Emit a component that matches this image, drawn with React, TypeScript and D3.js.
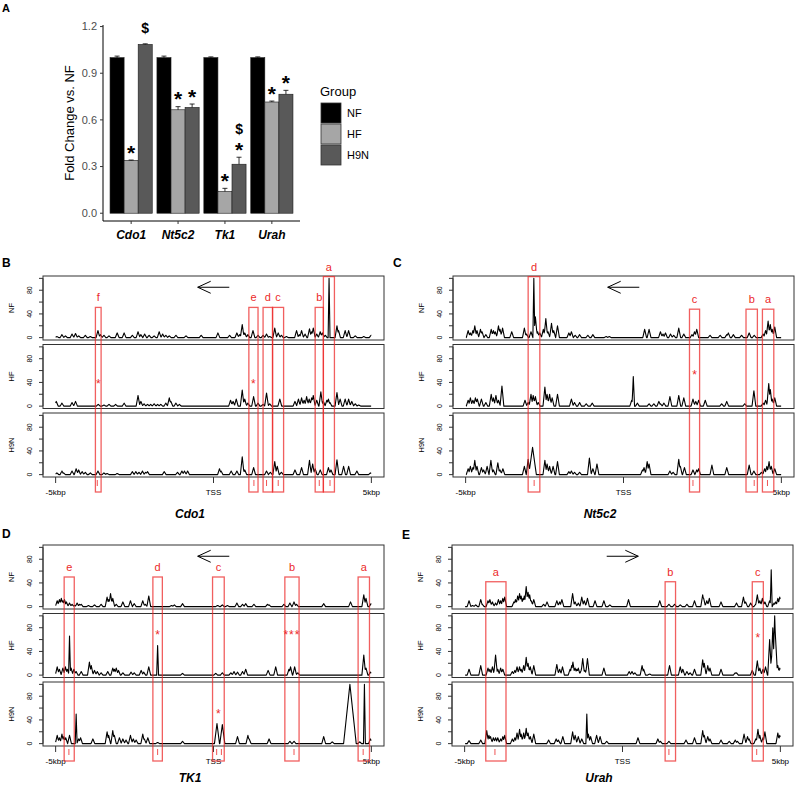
import React from 'react';
import * as d3 from 'd3';

// ---------- panel A: fold change (qPCR) ----------
const genes = ['Cdo1', 'Nt5c2', 'Tk1', 'Urah'];
const groups = ['NF', 'HF', 'H9N'];
const groupFill = ['#000000', '#a6a6a6', '#595959'];
const foldNF = [1.0, 1.0, 1.0, 1.0];
const errNF = [0.01, 0.01, 0.005, 0.005];
const foldHF = [0.34, 0.665, 0.14, 0.715];
const errHF = [0.002, 0.02, 0.02, 0.006];
const foldH9N = [1.085, 0.68, 0.315, 0.765];
const errH9N = [0.004, 0.022, 0.045, 0.025];
const foldTicks = [0, 0.3, 0.6, 0.9, 1.2];
const sigMarks = [
  ['Cdo1', 'HF', '*'], ['Cdo1', 'H9N', '$'],
  ['Nt5c2', 'HF', '*'], ['Nt5c2', 'H9N', '*'],
  ['Tk1', 'HF', '*'], ['Tk1', 'H9N', '*'], ['Tk1', 'H9N', '$'],
  ['Urah', 'HF', '*'], ['Urah', 'H9N', '*'],
];

// ---------- panels B-E: signal tracks, peaks as [kbp from TSS, signal, (half width)] ----------
const trackRows = ['NF', 'HF', 'H9N'];
const signalTicks = [0, 20, 40, 60, 80, 100];
const signalLabels = [0, 40, 80];
const posTicks = [-5, 0, 5];
const posLabels = ['-5kbp', 'TSS', '5kbp'];

const cdo1NF = [[-4.96,2],[-4.80,5],[-4.69,3],[-4.48,6],[-4.37,7],[-4.27,3],[-4.06,4],[-3.90,2],[-3.66,12],[-3.58,5],[-3.47,4],[-3.31,3],[-3.05,8],[-2.83,8],[-2.57,4],[-2.39,10],[-2.30,5],[-2.18,6],[-2.04,4],[-1.88,3],[-1.72,10],[-1.61,6],[-1.51,4],[-1.40,3],[-1.19,4],[-0.87,3],[-0.39,4],[0.14,8],[0.51,4],[0.74,8],[0.83,5],[0.91,22],[0.99,8],[1.09,5],[1.25,12],[1.41,4],[1.57,4],[1.68,6],[1.78,2],[1.94,16],[2.05,8],[2.15,4],[2.31,2],[2.63,12],[2.72,5],[2.79,12],[2.90,6],[3.04,15],[3.11,10],[3.16,16],[3.27,6],[3.38,10],[3.45,8],[3.54,4],[3.66,100,0.03],[3.91,20],[3.96,12],[4.17,12],[4.28,12],[4.49,3],[4.76,2],[4.99,4]];
const cdo1HF = [[-4.98,8],[-4.80,5],[-4.48,6],[-4.37,8],[-3.65,3],[-3.47,2],[-3.31,3],[-3.10,3],[-2.83,5],[-2.39,18],[-2.30,8],[-2.20,4],[-2.09,3],[-1.99,3],[-1.88,4],[-1.77,3],[-1.67,3],[-1.51,5],[-1.40,14],[-1.35,8],[-1.19,5],[-1.08,3],[0.54,10],[0.62,8],[0.72,12],[0.91,27],[0.99,12],[1.09,5],[1.27,16],[1.41,5],[1.57,3],[1.68,22],[1.78,4],[2.10,12],[2.58,8],[2.69,12],[2.79,14],[2.87,10],[2.95,16],[3.03,12],[3.11,14],[3.16,18],[3.27,10],[3.40,24],[3.48,8],[3.59,10],[3.64,12],[3.69,6],[3.91,23],[4.01,12],[4.17,12],[4.28,12],[4.38,8],[4.49,4],[4.60,2]];
const cdo1H9N = [[-4.96,3],[-4.80,6],[-4.75,3],[-4.48,6],[-4.35,10],[-4.27,8],[-4.16,5],[-4.06,4],[-3.90,3],[-3.66,6],[-3.47,3],[-3.37,2],[-3.05,2],[-2.57,5],[-2.46,5],[-2.36,4],[-2.25,6],[-2.15,4],[-2.09,5],[-1.56,5],[-1.14,4],[-1.00,6],[-0.92,6],[-0.82,6],[0.19,10],[0.24,6],[0.56,6],[0.74,6],[0.91,30],[0.99,8],[1.27,12],[1.68,6],[1.80,4],[1.94,22],[2.02,14],[2.15,4],[2.58,8],[2.79,12],[3.04,24],[3.14,18],[3.22,10],[3.38,8],[3.64,12],[3.72,8],[3.91,25],[4.12,14],[4.28,14],[4.54,6],[4.97,3]];

const nt5c2NF = [[-4.92,12],[-4.85,8],[-4.77,12],[-4.71,20],[-4.64,12],[-4.53,14],[-4.48,10],[-4.36,5],[-4.19,14],[-4.12,12],[-4.06,10],[-3.96,20],[-3.91,14],[-3.83,16],[-3.54,10],[-3.14,16],[-3.07,6],[-2.93,10],[-2.84,100,0.03],[-2.79,35],[-2.72,10],[-2.65,8],[-2.54,14],[-2.46,32],[-2.39,10],[-2.28,24],[-2.21,12],[-2.09,20],[-1.73,8],[-1.65,10],[-1.53,4],[-1.39,5],[-1.13,4],[-0.97,5],[-0.55,2],[-0.45,2],[0.67,14],[0.81,14],[1.17,10],[1.25,6],[1.33,8],[1.49,6],[1.59,4],[1.75,16],[1.91,6],[2.17,5],[2.25,10],[2.32,14],[2.74,4],[3.06,4],[3.27,5],[3.32,8],[3.48,5],[3.74,4],[3.98,8],[4.14,4],[4.42,6],[4.50,12],[4.58,28],[4.65,22],[4.71,14],[4.79,18]];
const nt5c2HF = [[-4.92,10],[-4.85,14],[-4.77,10],[-4.69,14],[-4.63,12],[-4.50,12],[-4.36,6],[-4.19,20],[-4.12,14],[-4.04,18],[-3.96,10],[-3.85,34],[-3.12,10],[-3.02,6],[-2.93,20],[-2.86,18],[-2.79,16],[-2.70,6],[-2.49,32],[-2.42,20],[-2.34,20],[-2.26,14],[-2.09,20],[-1.65,12],[-1.55,6],[-1.39,6],[-1.18,4],[-0.99,5],[0.26,10],[0.31,50,0.04],[0.44,5],[0.81,4],[0.96,4],[1.12,8],[1.17,4],[1.28,5],[1.47,16],[1.75,18],[1.91,14],[2.20,12],[2.29,8],[2.38,10],[2.59,10],[3.11,4],[3.27,8],[3.84,4],[4.13,26],[4.42,5],[4.50,10],[4.60,38],[4.65,28],[4.71,12],[4.79,14]];
const nt5c2H9N = [[-4.92,10],[-4.85,14],[-4.77,12],[-4.71,24],[-4.64,14],[-4.50,12],[-4.43,8],[-4.32,14],[-4.20,24],[-4.12,8],[-3.98,20],[-3.91,8],[-3.82,10],[-3.14,14],[-3.02,26],[-2.88,46,0.12],[-2.49,24],[-2.42,18],[-2.34,14],[-2.23,14],[-2.09,22],[-1.73,5],[-1.65,6],[-1.55,4],[-1.39,4],[-1.08,28],[-0.97,10],[-0.84,18],[0.60,8],[0.65,12],[0.75,22],[0.81,18],[1.47,6],[1.57,4],[1.75,26],[1.80,14],[1.93,12],[2.20,8],[2.32,8],[2.38,10],[2.80,16],[3.27,12],[3.98,16],[4.13,6],[4.37,4],[4.47,10],[4.54,14],[4.61,22],[4.68,14],[4.79,10]];

const tk1NF = [[-4.95,10],[-4.88,12],[-4.82,14],[-4.77,10],[-4.72,12],[-4.66,8],[-4.56,6],[-4.48,4],[-4.40,2],[-4.32,6],[-4.24,4],[-4.19,4],[-3.96,2],[-3.77,3],[-3.56,4],[-3.37,16],[-3.32,12],[-3.26,22],[-3.19,14],[-3.08,4],[-2.87,8],[-2.63,10],[-2.51,5],[-2.24,10],[-2.16,4],[-2.05,18],[-1.33,2],[-1.24,3],[-0.98,5],[0.13,2],[0.28,3],[0.44,2],[0.74,6],[0.92,4],[1.02,5],[1.28,4],[1.71,4],[1.76,3],[2.23,4],[2.42,6],[2.55,8],[2.63,4],[3.49,5],[4.34,8],[4.76,20],[4.83,14],[4.99,5]];
const tk1HF = [[-4.95,14],[-4.88,10],[-4.77,12],[-4.69,14],[-4.63,10],[-4.56,66,0.03],[-4.51,12],[-4.42,10],[-4.35,6],[-4.19,6],[-3.93,22],[-3.87,16],[-3.77,8],[-3.68,6],[-3.56,4],[-3.35,6],[-3.19,12],[-3.14,10],[-3.08,12],[-3.01,8],[-2.87,4],[-2.61,5],[-2.51,4],[-2.29,8],[-2.21,5],[-2.05,14],[-1.77,50,0.03],[-0.98,3],[0.07,3],[0.28,4],[0.55,4],[0.65,6],[0.76,5],[0.92,6],[1.02,10],[1.73,8],[1.97,14],[2.39,10],[2.44,14],[2.57,14],[2.67,4],[4.76,34],[4.83,12],[4.97,5]];
const tk1H9N = [[-4.95,14],[-4.88,10],[-4.80,16],[-4.74,12],[-4.68,10],[-4.56,14],[-4.35,50,0.03],[-4.27,8],[-4.21,10],[-3.82,8],[-3.37,20],[-3.32,14],[-3.19,22],[-3.14,14],[-2.98,10],[-2.87,8],[-2.77,6],[-2.63,14],[-2.54,8],[-2.45,6],[-2.24,16],[-2.19,8],[-2.08,10],[-1.77,2],[-0.98,4],[0.11,34,0.08],[0.28,32,0.08],[0.76,12],[1.09,14],[1.13,8],[1.76,8],[2.42,4],[2.55,4],[3.49,12],[3.76,3],[4.32,100,0.2],[4.63,3],[4.78,100,0.03],[4.97,8]];

const urahNF = [[-4.86,10],[-4.75,2],[-4.65,3],[-4.49,12],[-4.44,4],[-4.26,10],[-4.20,12],[-4.12,8],[-4.02,6],[-3.93,12],[-3.86,10],[-3.79,14],[-3.73,16],[-3.44,8],[-3.39,12],[-3.32,18],[-3.26,22],[-3.21,18],[-3.15,14],[-3.11,18],[-3.05,34],[-2.99,24],[-2.94,20],[-2.89,10],[-2.81,12],[-2.50,4],[-2.39,8],[-2.08,10],[-1.99,8],[-1.92,12],[-1.58,22],[-1.50,8],[-1.40,6],[-1.29,16],[-1.21,10],[-1.11,14],[-0.87,10],[-0.59,10],[-0.40,3],[0.19,12],[1.18,10],[1.47,4],[1.65,4],[1.83,3],[2.04,4],[2.28,10],[2.54,20],[2.57,14],[2.67,10],[2.75,14],[3.12,8],[3.61,6],[3.83,16],[3.90,8],[4.06,6],[4.22,4],[4.27,20],[4.35,10],[4.43,14],[4.51,8],[4.66,10],[4.71,62,0.03],[4.80,6],[4.85,8],[4.92,14],[4.98,16]];
const urahHF = [[-4.86,10],[-4.49,16],[-4.26,12],[-4.20,10],[-4.12,14],[-4.02,34],[-3.95,10],[-3.86,12],[-3.79,10],[-3.49,6],[-3.41,8],[-3.34,14],[-3.26,14],[-3.21,10],[-3.13,16],[-3.05,30],[-2.99,20],[-2.92,14],[-2.81,16],[-2.08,18],[-1.99,10],[-1.90,14],[-1.66,10],[-1.61,16],[-1.57,22],[-1.50,12],[-1.45,10],[-1.40,12],[-1.31,8],[-1.26,28],[-1.19,8],[-1.11,28],[-0.59,12],[0.21,6],[0.30,6],[0.39,4],[0.62,16],[0.67,10],[0.86,2],[1.49,16],[1.83,14],[1.91,10],[2.04,6],[2.14,4],[2.28,10],[2.54,26],[2.59,20],[2.70,16],[2.77,12],[3.12,10],[3.57,4],[3.61,4],[4.11,8],[4.27,24],[4.35,12],[4.45,10],[4.53,14],[4.66,60],[4.72,30],[4.76,80],[4.82,100,0.06],[4.85,60],[4.92,16],[4.98,12]];
const urahH9N = [[-4.86,5],[-4.49,6],[-4.30,22],[-4.23,14],[-4.18,12],[-4.09,10],[-4.02,10],[-3.95,10],[-3.86,8],[-3.79,12],[-3.73,14],[-3.49,8],[-3.41,10],[-3.34,18],[-3.26,24],[-3.21,16],[-3.13,18],[-3.05,26],[-2.99,18],[-2.92,12],[-2.81,16],[-2.34,6],[-2.10,8],[-2.03,6],[-1.89,12],[-1.58,20],[-1.50,14],[-1.40,12],[-1.29,8],[-1.13,50,0.03],[-1.08,16],[-1.01,12],[-0.82,14],[-0.71,12],[-0.50,4],[0.49,10],[1.12,8],[1.20,4],[1.47,4],[2.01,6],[2.28,10],[2.54,22],[2.59,14],[2.70,12],[2.77,8],[3.12,6],[3.38,4],[3.57,6],[3.64,4],[3.85,16],[3.96,12],[4.01,8],[4.22,8],[4.29,24],[4.35,14],[4.45,10],[4.51,20],[4.92,18],[4.98,14]];

// highlighted regions: kbp span, box top (signal units on NF row), tick marks, star text / row / signal
const cdo1Regions = [
  { label: 'f', from: -3.74, to: -3.56, reach: 51, marks: [-3.68], star: '*', starRow: 1, starAt: 40 },
  { label: 'e', from: 1.12, to: 1.41, reach: 51, marks: [1.28], star: '*', starRow: 1, starAt: 40 },
  { label: 'd', from: 1.57, to: 1.87, reach: 51, marks: [1.68] },
  { label: 'c', from: 1.87, to: 2.22, reach: 51, marks: [2.05] },
  { label: 'b', from: 3.22, to: 3.48, reach: 51, marks: [3.35] },
  { label: 'a', from: 3.48, to: 3.83, reach: 103, marks: [3.69] },
];
const nt5c2Regions = [
  { label: 'd', from: -3.02, to: -2.65, reach: 103, marks: [-2.83] },
  { label: 'c', from: 2.09, to: 2.41, reach: 48, marks: [2.2], star: '*', starRow: 1, starAt: 55 },
  { label: 'b', from: 3.88, to: 4.24, reach: 48, marks: [4.14] },
  { label: 'a', from: 4.4, to: 4.76, reach: 48, marks: [4.56] },
];
const tk1Regions = [
  { label: 'e', from: -4.73, to: -4.41, reach: 50, marks: [-4.58] },
  { label: 'd', from: -1.92, to: -1.62, reach: 50, marks: [-1.77], star: '*', starRow: 1, starAt: 70 },
  { label: 'c', from: -0.03, to: 0.34, reach: 50, marks: [0.1, 0.25], star: '*', starRow: 2, starAt: 52 },
  { label: 'b', from: 2.26, to: 2.71, reach: 50, marks: [2.55], star: '***', starRow: 1, starAt: 70 },
  { label: 'a', from: 4.58, to: 4.94, reach: 50, marks: [4.74] },
];
const urahRegions = [
  { label: 'a', from: -4.33, to: -3.69, reach: 42, marks: [-4.04] },
  { label: 'b', from: 1.35, to: 1.68, reach: 42, marks: [1.47] },
  { label: 'c', from: 4.11, to: 4.46, reach: 42, marks: [4.25], star: '*', starRow: 1, starAt: 65 },
];

const FONT = 'Liberation Sans, Arial, Helvetica, sans-serif';
const RED = '#ec2a2a';
const PANEL_W = 341;
const TRACK_H = 64;
const TRACK_GAP = 4.5;
const PEAK_HALF = 0.06;

const trackPanels = [
  { letter: 'B', lx: 2, ly: 267, gene: 'Cdo1', left: 43, top: 276, titleY: 518, strand: -1, tracks: [cdo1NF, cdo1HF, cdo1H9N], regions: cdo1Regions },
  { letter: 'C', lx: 393, ly: 267, gene: 'Nt5c2', left: 453, top: 276, titleY: 518, strand: -1, tracks: [nt5c2NF, nt5c2HF, nt5c2H9N], regions: nt5c2Regions },
  { letter: 'D', lx: 2, ly: 538, gene: 'TK1', left: 43, top: 545, titleY: 782, strand: -1, tracks: [tk1NF, tk1HF, tk1H9N], regions: tk1Regions },
  { letter: 'E', lx: 402, ly: 539, gene: 'Urah', left: 452, top: 545, titleY: 782, strand: 1, tracks: [urahNF, urahHF, urahH9N], regions: urahRegions },
];

// path of a coverage track: baseline from -5 to 5 kbp with triangular peaks
function trackPath(peaks: number[][], x: d3.ScaleLinear<number, number>, y: d3.ScaleLinear<number, number>) {
  const ks: number[] = [];
  for (let px = x(-5); px <= x(5) + 0.001; px += 0.5) ks.push(x.invert(px));
  peaks.forEach(p => {
    const s = p[2] ?? PEAK_HALF;
    ks.push(p[0], p[0] - s, p[0] + s);
  });
  const sorted = ks.filter(k => k >= -5 && k <= 5).sort((a, b) => a - b);
  const pts: [number, number][] = sorted.map(k => {
    let v = 0;
    for (const p of peaks) {
      const s = p[2] ?? PEAK_HALF;
      const d = Math.abs(k - p[0]);
      if (d < s) v = Math.max(v, p[1] * (1 - d / s));
    }
    return [x(k), y(v)];
  });
  return d3.line()(pts) || '';
}

const BarPanel = () => {
  const x = d3.scaleBand().domain(genes).range([103, 300]).paddingInner(0.1).paddingOuter(0.15);
  const xg = d3.scaleBand().domain(groups).range([0, x.bandwidth()]);
  const y = d3.scaleLinear().domain([-0.05, 1.21]).range([221, 25]);
  const series: Record<string, number[][]> = { NF: [foldNF, errNF], HF: [foldHF, errHF], H9N: [foldH9N, errH9N] };
  const stack: Record<string, number> = {};

  return (
    <g fontFamily={FONT}>
      <text x={2} y={12} fontSize={11} fontWeight="bold">A</text>
      {genes.map((g, i) => groups.map((grp, j) => {
        const [vals, errs] = series[grp];
        const bx = (x(g) as number) + (xg(grp) as number);
        const cx = bx + xg.bandwidth() / 2;
        return (
          <g key={g + grp}>
            <rect x={bx} y={y(vals[i])} width={xg.bandwidth()} height={y(0) - y(vals[i])}
              fill={groupFill[j]} stroke="#1a1a1a" strokeWidth={0.6} />
            <line x1={cx} x2={cx} y1={y(vals[i])} y2={y(vals[i] + errs[i])} stroke="#000" strokeWidth={0.8} />
            <line x1={cx - 2.5} x2={cx + 2.5} y1={y(vals[i] + errs[i])} y2={y(vals[i] + errs[i])} stroke="#000" strokeWidth={0.8} />
          </g>
        );
      }))}
      {sigMarks.map(([g, grp, sym], k) => {
        const key = g + grp;
        const n = stack[key] || 0;
        stack[key] = n + 1;
        const i = genes.indexOf(g);
        const [vals, errs] = series[grp];
        const top = y(vals[i] + errs[i]);
        const cx = (x(g) as number) + (xg(grp) as number) + xg.bandwidth() / 2;
        const ty = sym === '*' ? top - 0.5 - n * 20 : top - 11 - n * 12.5;
        return (
          <text key={k} x={cx} y={ty} textAnchor="middle" fontWeight="bold"
            fontSize={sym === '*' ? 21 : 14}>{sym}</text>
        );
      })}
      {/* y axis */}
      <line x1={103} x2={103} y1={25} y2={221} stroke="#000" strokeWidth={1} />
      {foldTicks.map(t => (
        <g key={t}>
          <line x1={100} x2={103} y1={y(t)} y2={y(t)} stroke="#333" />
          <text x={97} y={y(t)} dy="0.35em" textAnchor="end" fontSize={11} fill="#4d4d4d">{t.toFixed(1)}</text>
        </g>
      ))}
      <text transform={`translate(74,123) rotate(-90)`} textAnchor="middle" fontSize={13}>Fold Change vs. NF</text>
      {/* x axis */}
      <line x1={103} x2={300} y1={221} y2={221} stroke="#000" strokeWidth={1} />
      {genes.map(g => {
        const cx = (x(g) as number) + x.bandwidth() / 2;
        return (
          <g key={g}>
            <line x1={cx} x2={cx} y1={221} y2={224} stroke="#333" />
            <text x={cx} y={239} textAnchor="middle" fontSize={12} fontWeight="bold" fontStyle="italic">{g}</text>
          </g>
        );
      })}
      {/* legend */}
      <text x={320} y={96} fontSize={13}>Group</text>
      {groups.map((grp, j) => (
        <g key={grp}>
          <rect x={321} y={103 + j * 21} width={20} height={20} fill={groupFill[j]} stroke="#333" strokeWidth={0.8} />
          <text x={347} y={113 + j * 21} dy="0.35em" fontSize={11}>{grp}</text>
        </g>
      ))}
    </g>
  );
};

const TrackPanel = ({ p }: { p: typeof trackPanels[number] }) => {
  const right = p.left + PANEL_W;
  const x = d3.scaleLinear().domain([-5.4, 5.4]).range([p.left, right]);
  const rowTop = (r: number) => p.top + r * (TRACK_H + TRACK_GAP);
  const ys = trackRows.map((_, r) => d3.scaleLinear().domain([-4, 104]).range([rowTop(r) + TRACK_H, rowTop(r)]));
  const bottom = rowTop(2) + TRACK_H;
  const boxBottom = bottom + 15;
  const ax0 = x(-0.5 * p.strand), ax1 = x(0.5 * p.strand), ay = ys[0](85);
  const head = 13 * p.strand;

  return (
    <g fontFamily={FONT}>
      <text x={p.lx} y={p.ly} fontSize={12} fontWeight="bold">{p.letter}</text>
      {trackRows.map((row, r) => (
        <g key={row}>
          <rect x={p.left} y={rowTop(r)} width={PANEL_W} height={TRACK_H} fill="none" stroke="#333" strokeWidth={1} />
          <line x1={p.left} x2={p.left} y1={ys[r](0)} y2={ys[r](100)} stroke="#333" />
          {signalTicks.map(t => (
            <line key={t} x1={p.left - 4} x2={p.left} y1={ys[r](t)} y2={ys[r](t)} stroke="#333" />
          ))}
          {signalLabels.map(t => (
            <text key={t} transform={`translate(${p.left - 13},${ys[r](t)}) rotate(-90)`} dy="0.35em"
              textAnchor="middle" fontSize={7}>{t}</text>
          ))}
          <text transform={`translate(${p.left - 32},${rowTop(r) + TRACK_H / 2}) rotate(-90)`} dy="0.35em"
            textAnchor="middle" fontSize={7.5}>{row}</text>
          <path d={trackPath(p.tracks[r], x, ys[r])} fill="none" stroke="#000" strokeWidth={1.1} strokeLinejoin="round" />
        </g>
      ))}
      {/* x axis ticks */}
      {posTicks.map((t, i) => (
        <g key={t}>
          <line x1={x(t)} x2={x(t)} y1={bottom} y2={bottom + 6} stroke="#333" />
          <text x={x(t)} y={bottom + 18} textAnchor="middle" fontSize={8}>{posLabels[i]}</text>
        </g>
      ))}
      <text x={p.left + 147} y={p.titleY} textAnchor="middle" fontSize={12} fontWeight="bold" fontStyle="italic">{p.gene}</text>
      {/* strand arrow */}
      <line x1={ax0} x2={ax1} y1={ay} y2={ay} stroke="#000" strokeWidth={1} />
      <polyline points={`${ax1 - head},${ay - 6} ${ax1},${ay} ${ax1 - head},${ay + 6}`} fill="none" stroke="#000" strokeWidth={1} />
      {/* highlighted regions */}
      {p.regions.map(rg => {
        const bx0 = x(rg.from), bx1 = x(rg.to);
        const bt = ys[0](rg.reach);
        return (
          <g key={rg.label}>
            <rect x={bx0} y={bt} width={bx1 - bx0} height={boxBottom - bt} fill="none"
              stroke={RED} strokeOpacity={0.75} strokeWidth={1.3} />
            <text x={(bx0 + bx1) / 2} y={bt - 6} textAnchor="middle" fontSize={11} fill={RED}>{rg.label}</text>
            {rg.marks.map(m => (
              <line key={m} x1={x(m)} x2={x(m)} y1={bottom + 3} y2={bottom + 9} stroke={RED} strokeWidth={0.8} />
            ))}
            {rg.star && (
              <text x={(bx0 + bx1) / 2} y={ys[rg.starRow](rg.starAt)} dy="0.45em" textAnchor="middle"
                fontSize={12} fill={RED} letterSpacing={rg.star.length > 1 ? 1 : 0}>{rg.star}</text>
            )}
          </g>
        );
      })}
    </g>
  );
};

export default function App() {
  return (
    <div style={{ position: 'absolute', left: 0, top: 0 }}>
      <svg width={800} height={787} style={{ display: 'block', background: '#fff' }}>
        <BarPanel />
        {trackPanels.map(p => <TrackPanel key={p.letter} p={p} />)}
      </svg>
    </div>
  );
}
